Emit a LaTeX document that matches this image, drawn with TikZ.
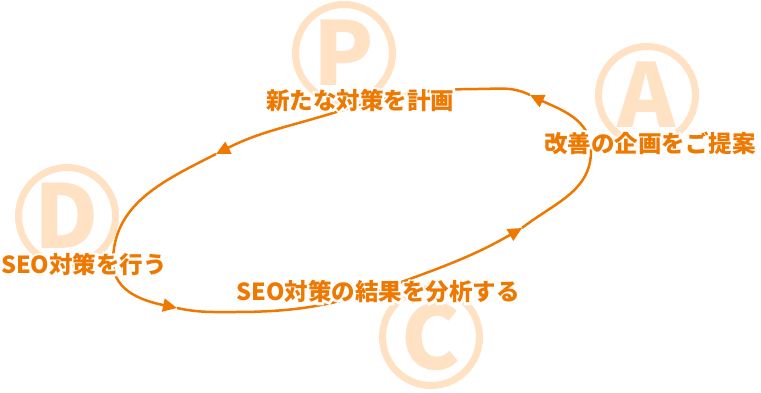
\documentclass[tikz,border=0pt]{standalone}
\usepackage{fontspec}
\usetikzlibrary{arrows.meta}
\newfontfamily\jpfont{Noto Sans CJK JP}
\newfontfamily\jphalo{Noto Sans CJK JP}[BoldFeatures={FakeBold=18}]
\definecolor{pdcaorange}{RGB}{238,120,0}
\definecolor{pdcalight}{RGB}{255,225,196}
\tikzset{
  ringline/.style={draw=pdcalight, line width=7pt, circle, minimum size=97pt, inner sep=0},
  ringletter/.style={text=pdcalight, font=\jpfont\bfseries\fontsize{88}{88}\selectfont, inner sep=0},
  loopline/.style={pdcaorange, line width=2.5pt},
  steplabel/.style={text=pdcaorange, font=\jpfont\bfseries\fontsize{23.5}{28}\selectfont, inner sep=0},
  stephalo/.style={text=white, font=\jphalo\bfseries\fontsize{23.5}{28}\selectfont, inner sep=0}
}

\begin{document}
\begin{tikzpicture}[x=1pt, y=1pt, >={Triangle[length=14pt,width=13pt]}]
  \useasboundingbox (0,0) rectangle (761,392);
  % rings and letters
  \foreach \l/\x/\y in {P/344/339, A/647/297, D/67/176, C/431/55}{
    \node[ringline] (R\l) at (\x,\y) {};
    \node[ringletter] (L\l) at (\x,\y) {\l};
  }
  % loop waypoints
  \coordinate (arrCA) at (522,164);
  \coordinate (wA) at (591,241);
  \coordinate (arrAP) at (530,297);
  \coordinate (wP1) at (478,303);
  \coordinate (wP2) at (333,279);
  \coordinate (arrPD) at (216,238);
  \coordinate (wD) at (113,130);
  \coordinate (arrDC) at (177,84);
  \coordinate (wC1) at (235,80);
  \coordinate (wC2) at (407,112);
  % loop
  \draw[loopline,->] (arrCA) to[out=38,in=-90] (wA) to[out=90,in=-26] (arrAP);
  \draw[loopline,->] (arrAP) to[out=154,in=0] (wP1) to[out=180,in=17] (wP2) to[out=197,in=27] (arrPD);
  \draw[loopline,->] (arrPD) to[out=207,in=90] (wD) to[out=-90,in=168] (arrDC);
  \draw[loopline,->] (arrDC) to[out=-12,in=180] (wC1) to[out=0,in=200] (wC2) to[out=20,in=210] (arrCA);
  % labels (white halo under each)
  \foreach \n/\x/\y/\t in {P/360/292/新たな対策を計画, A/650/249/改善の企画をご提案,
      D/84/128/SEO対策を行う, C/378/100/SEO対策の結果を分析する}{
    \node[stephalo] (H\n) at (\x,\y) {\t};
    \node[steplabel] (T\n) at (\x,\y) {\t};
  }
\end{tikzpicture}
\end{document}
